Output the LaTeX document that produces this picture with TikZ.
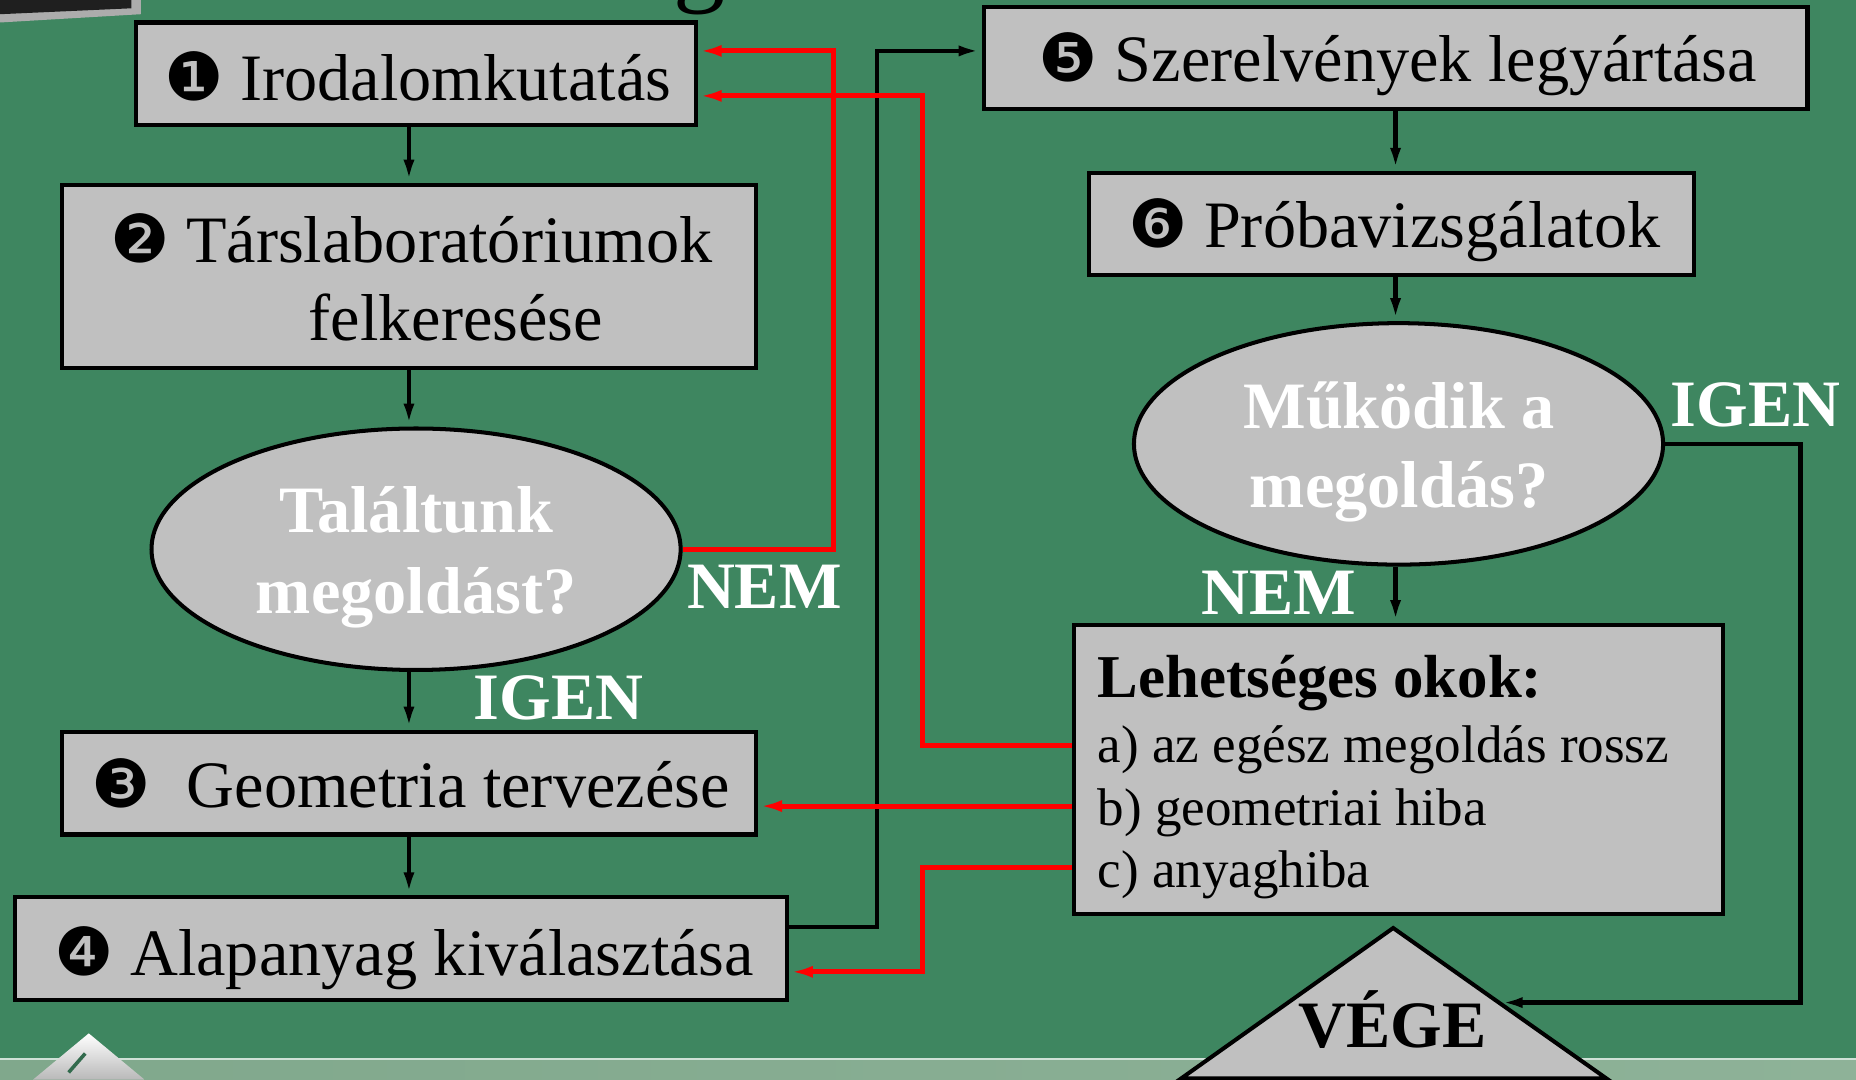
\documentclass[tikz,border=0pt]{standalone}
\usepackage{fontspec}
\setmainfont{Liberation Serif}
\newfontfamily\dvfont{DejaVu Sans}
\usetikzlibrary{arrows.meta,shapes.geometric}
\definecolor{bggreen}{RGB}{62,134,96}
\definecolor{boxgray}{RGB}{192,192,192}
\definecolor{stripL}{RGB}{128,168,140}
\definecolor{stripR}{RGB}{142,178,152}
\newcommand\dingnum[1]{{\dvfont #1}}
\tikzset{
  box/.style={draw=black, line width=1.7pt, fill=boxgray, inner sep=0pt, rectangle},
  oval/.style={draw=black, line width=1.7pt, fill=boxgray, inner sep=0pt, ellipse},
  txt/.style={font=\fontsize{28}{32}\selectfont, inner sep=0pt, anchor=base},
  qtxt/.style={font=\fontsize{28}{32}\selectfont\bfseries, text=white, inner sep=0pt, anchor=base},
  lbl/.style={font=\fontsize{28}{32}\selectfont\bfseries, text=white, inner sep=0pt, anchor=base west},
  okhead/.style={font=\fontsize{25.7}{30}\selectfont\bfseries, inner sep=0pt, anchor=base west},
  okitem/.style={font=\fontsize{22.4}{27}\selectfont, inner sep=0pt, anchor=base west},
  blk/.style={draw=black, line width=1.9pt, -{Latex[length=9.7pt,width=4.6pt]}},
  rd/.style={draw=red, line width=2.1pt, -{Latex[length=10pt,width=5pt]}},
}
\begin{document}
\begin{tikzpicture}[x=0.5pt, y=-0.5pt]
\useasboundingbox (0,0) rectangle (1568,912);
\clip (0,0) rectangle (1568,912);
% background
\fill[bggreen] (0,0) rectangle (1568,912);
\shade[left color=stripL, right color=stripR] (0,894) rectangle (1568,912);
\draw[white!75!bggreen, line width=0.9pt] (0,894.5) -- (1568,894.5);
% decorative fragments
\fill[gray!65] (0,0) -- (119,0) -- (119,12) -- (0,19) -- cycle;
\fill[black!88] (0,0) -- (111,0) -- (111,7) -- (0,12) -- cycle;
\shade[top color=white, bottom color=gray!55] (75,873) -- (122,912) -- (28,912) -- cycle;
\draw[bggreen!80!black, line width=1.5pt] (58,906) -- (72,890);
\node[font=\fontsize{44}{44}\selectfont, inner sep=0pt, anchor=base west] (gfrag) at (569,-6) {g};

% boxes
\node[box, minimum width=236.5pt, minimum height=43.5pt] (box1) at (351.5,62.5) {};
\node[box, minimum width=293.5pt, minimum height=77.5pt] (box2) at (345.5,233.5) {};
\node[oval, minimum width=223.5pt, minimum height=102pt] (e1) at (351.5,464) {};
\node[box, minimum width=293.5pt, minimum height=43.5pt] (box3) at (345.5,661.5) {};
\node[box, minimum width=326pt, minimum height=43.5pt] (box4) at (339,801.5) {};
\node[box, minimum width=348pt, minimum height=43pt] (box5) at (1179,49) {};
\node[box, minimum width=255.5pt, minimum height=43pt] (box6) at (1175.5,189) {};
\node[oval, minimum width=223.5pt, minimum height=102pt] (e2) at (1181.5,375) {};
\node[box, minimum width=274.5pt, minimum height=122pt] (box7) at (1181.5,650) {};
\filldraw[fill=boxgray, draw=black, line width=1.7pt] (1177,784) -- (1357,911) -- (998,911) -- cycle;
\coordinate (vegeR) at (1267,847);

% texts
\node[txt] (t1) at (353,85) {\dingnum{❶} Irodalomkutatás};
\node[txt] (t2a) at (347.5,222) {\dingnum{❷} Társlaboratóriumok};
\node[txt] (t2b) at (385,288) {felkeresése};
\node[qtxt] (q1a) at (351.5,450) {Találtunk};
\node[qtxt] (q1b) at (351.5,518) {megoldást?};
\node[txt] (t3) at (347,682.5) {\dingnum{❸}\hspace{8pt} Geometria tervezése};
\node[txt] (t4) at (341.5,824) {\dingnum{❹} Alapanyag kiválasztása};
\node[txt] (t5) at (1181,69) {\dingnum{❺} Szerelvények legyártása};
\node[txt] (t6) at (1178,209) {\dingnum{❻} Próbavizsgálatok};
\node[qtxt] (q2a) at (1182,362) {Működik a};
\node[qtxt] (q2b) at (1182,429) {megoldás?};
\node[okhead] (ok0) at (927,589) {Lehetséges okok:};
\node[okitem] (ok1) at (927,644) {a) az egész megoldás rossz};
\node[okitem] (ok2) at (927,697) {b) geometriai hiba};
\node[okitem] (ok3) at (927,750) {c) anyaghiba};
\node[font=\fontsize{28}{32}\selectfont\bfseries, inner sep=0pt, anchor=base] (vege) at (1176.5,885) {VÉGE};

% labels
\node[lbl] (nem1) at (580,514) {NEM};
\node[lbl] (igen1) at (400,608) {IGEN};
\node[lbl] (igen2) at (1411,360.5) {IGEN};
\node[lbl] (nem2) at (1015,519.5) {NEM};

% black connectors
\draw[blk] (box1.south -| box2.north) -- (box2.north);
\draw[blk] (box2.south) -- (box2.south |- e1.north);
\draw[blk] (e1.south -| box3.north) -- (box3.north);
\draw[blk] (box3.south) -- (box4.north -| box3.south);
\draw[blk] ([yshift=9.25pt]box4.east) -- (741,783) -- (741,43) -- ([yshift=3pt]box5.west);
\draw[blk] (box5.south) -- (box5.south |- box6.north);
\draw[blk] (box6.south -| box5.south) -- (box5.south |- e2.north);
\draw[blk] (e2.south -| box5.south) -- (box5.south |- box7.north);
\draw[blk] (e2.east) -- (1521,375) -- (1521,847) -- (vegeR);

% red connectors
\draw[rd] (e1.east) -- (704,464) -- (704,43) -- ([yshift=9.75pt]box1.east);
\draw[rd] ([yshift=10pt]box7.west) -- (779,630) -- (779,81) -- ([yshift=-9.25pt]box1.east);
\draw[rd] ([yshift=-15.5pt]box7.west) -- ([yshift=-9.75pt]box3.east);
\draw[rd] ([yshift=-41.5pt]box7.west) -- (779,733) -- (779,821) -- ([yshift=-9.75pt]box4.east);
\end{tikzpicture}
\end{document}
